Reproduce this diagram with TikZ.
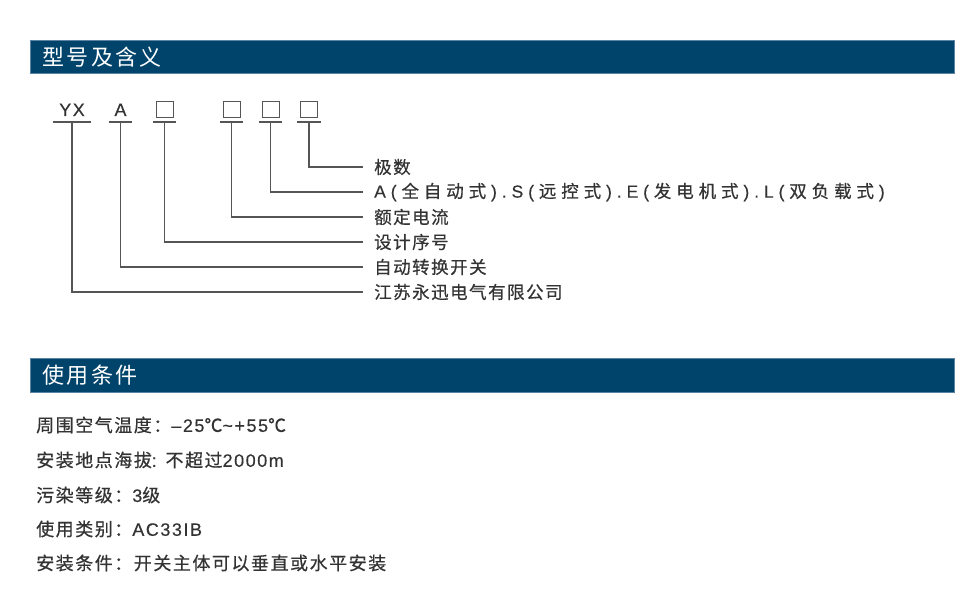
\documentclass[tikz,border=0pt]{standalone}
\usepackage{fontspec}
\usepackage{xcolor}
\setmainfont{Noto Sans CJK SC}
\newfontfamily\cjk[LetterSpace=8.5,FakeBold=0.5]{Noto Sans CJK SC}
\newfontfamily\cjkwide[LetterSpace=28,FakeBold=0.5]{Noto Sans CJK SC}
\newfontfamily\cjktitle[LetterSpace=11]{Noto Sans CJK SC}
\newfontfamily\latn[LetterSpace=8.5,FakeBold=0.3]{Liberation Sans}
\newfontfamily\latnwide[LetterSpace=28,FakeBold=0.3]{Liberation Sans}
\newcommand\lt[1]{{\latn#1}}
\newcommand\ltw[1]{{\kern4.9pt\latnwide#1\kern4.9pt}}
\definecolor{barblue}{RGB}{0,68,108}
\definecolor{barline}{RGB}{92,132,162}
\definecolor{txtgray}{RGB}{51,51,51}
\definecolor{linegray}{RGB}{85,85,85}

\begin{document}
\begin{tikzpicture}[x=1pt,y=-1pt,
  bar/.style={fill=barblue,draw=barline,line width=1pt},
  bartitle/.style={anchor=west,inner sep=0,text=white,font=\cjktitle\fontsize{22}{26}\selectfont},
  code/.style={anchor=south,minimum height=24,inner sep=0,text=txtgray,font=\latn\fontsize{18}{22}\selectfont},
  sq/.style={draw=linegray,line width=0.9pt,minimum width=17,minimum height=16,inner sep=0},
  lead/.style={draw=linegray,line width=1.1pt},
  lbl/.style={anchor=west,inner xsep=11,inner ysep=0,text=txtgray,font=\cjk\fontsize{17.5}{21}\selectfont},
  cond/.style={anchor=west,inner sep=0,text=txtgray,font=\cjk\fontsize{18}{22}\selectfont}]
\useasboundingbox(0,0)rectangle(979,590);
\fill[white](0,0)rectangle(979,590);
\draw[bar](30,40)rectangle(954,73);
\node[bartitle](title1)at(42,57){型号及含义};
\draw[bar](30,358)rectangle(954,392);
\node[bartitle](title2)at(42,375){使用条件};
% code slots
\node[code,minimum width=38](yx)at(72,122){YX};
\node[code,minimum width=23](auto)at(120.5,122){A};
\node[code,minimum width=23](design)at(164.5,122){};
\node[code,minimum width=23](current)at(231.5,122){};
\node[code,minimum width=23](mode)at(270.5,122){};
\node[code,minimum width=23](poles)at(309,122){};
\foreach \s in {yx,auto,design,current,mode,poles}\draw[lead](\s.south west)--(\s.south east);
\foreach \s in {design,current,mode,poles}\node[sq]at(\s){};
% meanings
\node[lbl](lpoles)at(363,167){极数};
\node[lbl,font=\cjkwide\fontsize{17.5}{21}\selectfont](lmode)at(363,192){{\latnwide A(\kern4.9pt}全自动式\ltw{).S(}远控式\ltw{).E(}发电机式\ltw{).L(}双负载式{\kern4.9pt\latnwide)}};
\node[lbl](lcurrent)at(363,217){额定电流};
\node[lbl](ldesign)at(363,242){设计序号};
\node[lbl](lauto)at(363,267){自动转换开关};
\node[lbl](lyx)at(363,292){江苏永迅电气有限公司};
\draw[lead](poles.south)|-(lpoles.west);
\draw[lead](mode.south)|-(lmode.west);
\draw[lead](current.south)|-(lcurrent.west);
\draw[lead](design.south)|-(ldesign.west);
\draw[lead](auto.south)|-(lauto.west);
\draw[lead](yx.south)|-(lyx.west);
% conditions
\node[cond](c1)at(36,425){周围空气温度：\lt{–25}℃\lt{\char"7E+55}℃};
\node[cond](c2)at(36,460){安装地点海拔\lt{: }不超过\lt{2000m}};
\node[cond](c3)at(36,495){污染等级：\lt{3}级};
\node[cond](c4)at(36,529){使用类别：\lt{AC33IB}};
\node[cond](c5)at(36,563){安装条件：开关主体可以垂直或水平安装};
\end{tikzpicture}
\end{document}
